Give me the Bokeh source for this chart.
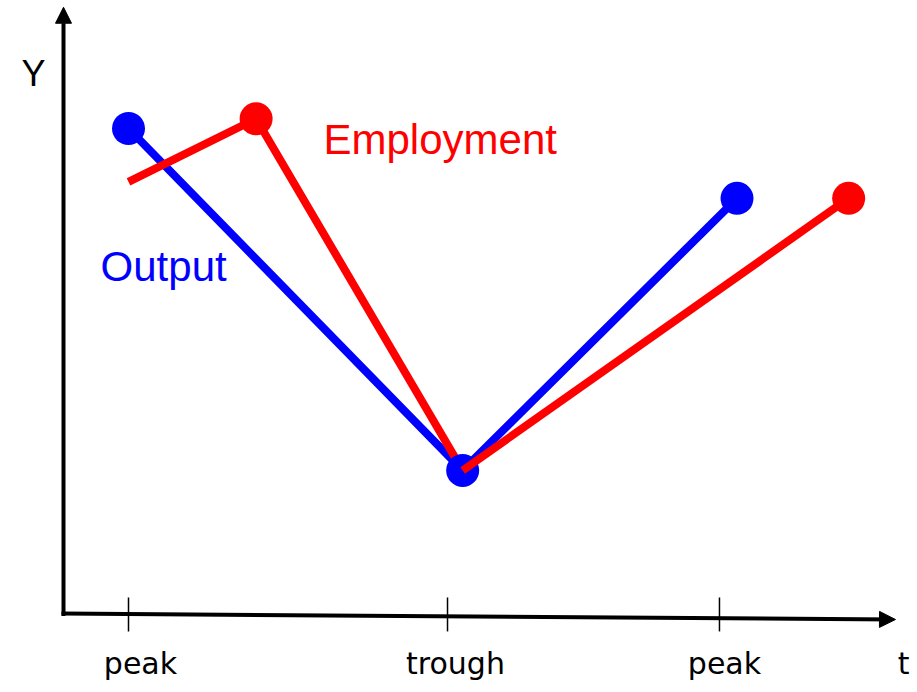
from bokeh.plotting import figure
from bokeh.models import Range1d, Arrow, NormalHead, Label
from bokeh.embed import file_html
from bokeh.resources import INLINE

# ---- data (arbitrary units) ----
T_OUTPUT = [1.0, 5.19, 8.63]
Y_OUTPUT = [10.0, 2.95, 8.56]

T_EMPLOY = [1.0, 2.6, 5.19, 10.03]
Y_EMPLOY = [8.9, 10.2, 2.95, 8.56]

TICK_T = [1.0, 5.0, 8.41]
TICK_LABELS = ["peak", "trough", "peak"]

BLUE = "#0000ff"
RED = "#ff0000"

p = figure(width=917, height=692, output_backend="svg", toolbar_location=None,
           x_range=Range1d(-0.605, 10.893), y_range=Range1d(-1.629, 12.639),
           min_border=0, x_axis_type=None, y_axis_type=None)
p.grid.visible = False
p.outline_line_color = None
p.background_fill_color = "white"

# ---- hand-drawn style axes with arrows ----
p.add_layout(Arrow(end=NormalHead(size=16, fill_color="black", line_color="black", line_width=1),
                   x_start=0.185, y_start=-0.05, x_end=0.185, y_end=12.5,
                   line_color="black", line_width=4))
p.add_layout(Arrow(end=NormalHead(size=16, fill_color="black", line_color="black", line_width=1),
                   x_start=0.16, y_start=0.0, x_end=10.617, y_end=-0.124,
                   line_color="black", line_width=4))

# tick marks
p.segment(x0=TICK_T, y0=[0.33] * len(TICK_T), x1=TICK_T, y1=[-0.37] * len(TICK_T),
          line_color="black", line_width=1.5)

# tick labels
label_offsets = [0.15, 0.10, 0.063]
for t, lab, off in zip(TICK_T, TICK_LABELS, label_offsets):
    p.add_layout(Label(x=t + off, y=-1.04, text=lab, text_font="DejaVu Sans",
                       text_font_size="30px", text_align="center",
                       text_baseline="alphabetic", text_color="black"))
p.add_layout(Label(x=10.718, y=-1.04, text="t", text_font="DejaVu Sans",
                   text_font_size="30px", text_align="center",
                   text_baseline="alphabetic", text_color="black"))
p.add_layout(Label(x=-0.191, y=11.14, text="Y", text_font="Liberation Sans",
                   text_font_size="36px", text_align="center",
                   text_baseline="alphabetic", text_color="black"))

# ---- series ----
p.line(T_OUTPUT, Y_OUTPUT, line_color=BLUE, line_width=8)
p.line(T_EMPLOY[:3], Y_EMPLOY[:3], line_color=RED, line_width=8)
p.scatter(T_OUTPUT, Y_OUTPUT, size=33, fill_color=BLUE, line_color=None)
p.line(T_EMPLOY[2:], Y_EMPLOY[2:], line_color=RED, line_width=8)
p.scatter([T_EMPLOY[1], T_EMPLOY[3]], [Y_EMPLOY[1], Y_EMPLOY[3]], size=33,
          fill_color=RED, line_color=None)

# series labels
p.add_layout(Label(x=0.65, y=7.15, text="Output", text_font="Liberation Sans",
                   text_font_size="42px", text_align="left",
                   text_baseline="alphabetic", text_color=BLUE))
p.add_layout(Label(x=3.445, y=9.78, text="Employment", text_font="Liberation Sans",
                   text_font_size="42px", text_align="left",
                   text_baseline="alphabetic", text_color=RED))

open("out.html", "w").write(file_html(p, INLINE))
